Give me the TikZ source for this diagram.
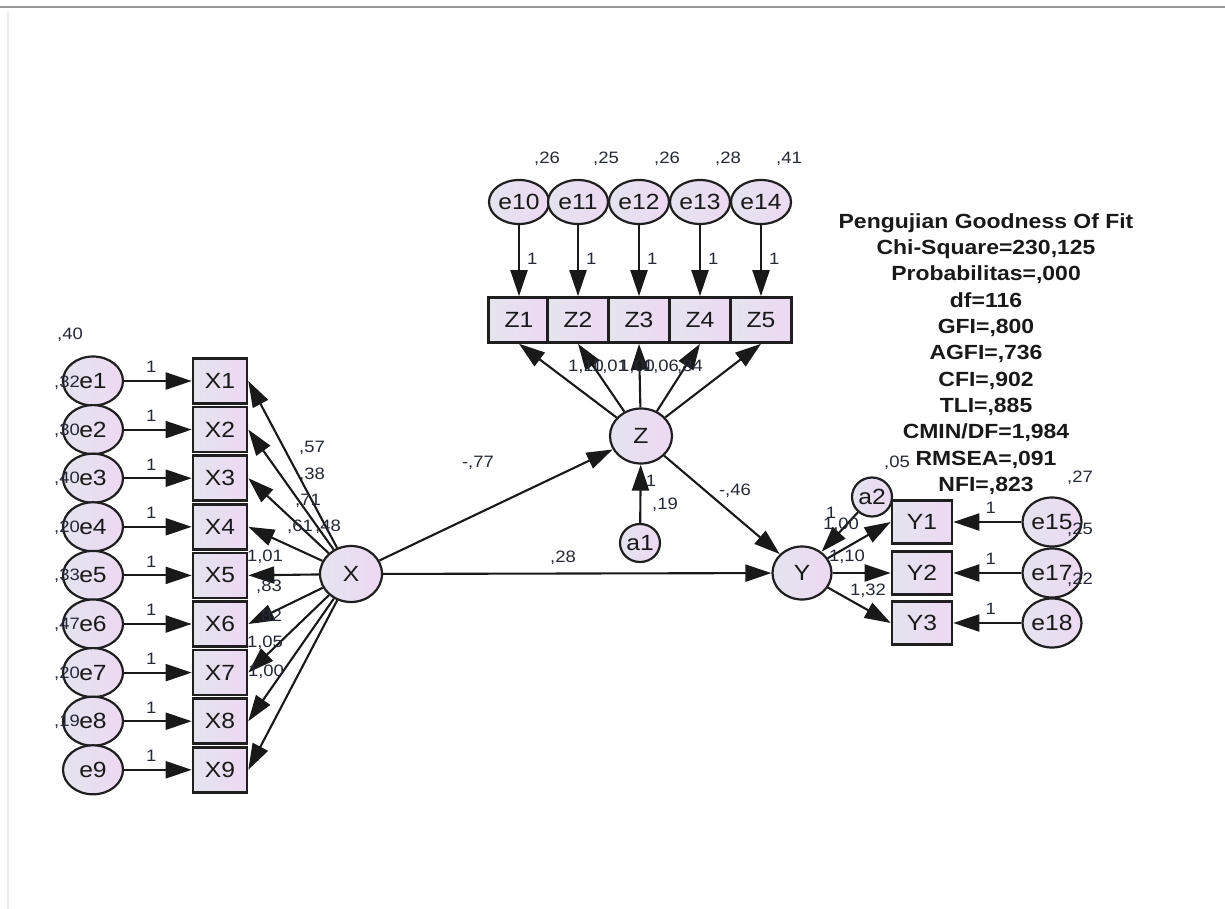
\documentclass[tikz,border=0pt]{standalone}
\usepackage{fontspec}
\setmainfont{Liberation Sans}[FakeStretch=1.12]
\usetikzlibrary{shapes.geometric,arrows.meta}
\definecolor{shA}{HTML}{E4E4EE}
\definecolor{shB}{HTML}{EDD8F3}
\definecolor{lblc}{HTML}{252936}
\begin{document}
\begin{tikzpicture}[x=1pt,y=-1pt,
 lat/.style={ellipse, draw=black!88, line width=2.2pt, left color=shA, right color=shB, inner sep=0pt, font=\fontsize{22}{24}\selectfont, text=black!90},
 obsbox/.style={rectangle, draw=black!88, line width=2.6pt, left color=shA, right color=shB, inner sep=0pt, minimum width=60pt, minimum height=44pt, font=\fontsize{22}{24}\selectfont, text=black!90},
 arr/.style={draw=black!90, line width=2.1pt, -{Triangle[length=26pt,width=17pt]}},
 num/.style={font=\fontsize{16.5}{18}\selectfont, text=lblc, inner sep=0pt},
 fittext/.style={font=\bfseries\fontsize{20.5}{26.3}\selectfont, align=center, text=black!90, inner sep=0pt}
]
\useasboundingbox (0,0) rectangle (1225,909);
\draw[black!40, line width=2pt] (0,7) -- (1225,7);
\draw[black!8, line width=2pt] (8,12) -- (8,909);

% ---------- X block ----------
\foreach \i/\yy in {1/381,2/429.6,3/478.2,4/526.8,5/575.4,6/624,7/672.6,8/721.2,9/769.8}{
  \node[lat, minimum width=60pt, minimum height=49pt] (e\i) at (93,\yy) {e\i};
  \node[obsbox, minimum width=54pt, minimum height=45pt] (X\i) at (220,\yy) {X\i};
}
\node[lat, minimum width=62pt, minimum height=56pt] (X) at (351,574) {X};
\foreach \i in {1,...,9}{
  \draw[arr] (e\i) -- node[num, above=7pt, pos=0.4] (w\i) {1} (X\i);
  \draw[arr] (X) -- (X\i.east);
}
% variances of e1..e8
\node[num] (v0) at (70,335) {,40};
\node[num] (v1) at (67,383) {,32};
\node[num] (v2) at (67,431) {,30};
\node[num] (v3) at (67,479) {,40};
\node[num] (v4) at (67,528) {,20};
\node[num] (v5) at (67,576) {,33};
\node[num] (v6) at (67,625) {,47};
\node[num] (v7) at (67,674) {,20};
\node[num] (v8) at (67,722) {,19};
% loadings of X
\node[num] (l1) at (312,448) {,57};
\node[num] (l2) at (312,475) {,38};
\node[num] (l3) at (308,501) {,71};
\node[num] (l4) at (300,527) {,61};
\node[num] (l4b) at (328,527) {,48};
\node[num] (l5) at (265,557) {1,01};
\node[num] (l6) at (269,587) {,83};
\node[num] (l7) at (269,617) {,82};
\node[num] (l8) at (265,643) {1,05};
\node[num] (l9) at (266,672) {1,00};

% ---------- Z block ----------
\foreach \i/\xx/\v in {1/519/{,26}, 2/578/{,25}, 3/639/{,26}, 4/700/{,28}, 5/761/{,41}}{
  \pgfmathtruncatemacro{\ee}{\i+9}
  \node[lat, minimum width=60pt, minimum height=44pt] (e\ee) at (\xx,202) {e\ee};
  \node[obsbox, minimum width=61pt, minimum height=45pt] (Z\i) at (\xx,320) {Z\i};
  \node[num] (ve\ee) at (\xx+28,159) {\v};
}
\node[lat, minimum width=62pt, minimum height=55pt] (Z) at (641,436) {Z};
\foreach \i in {1,...,5}{
  \pgfmathtruncatemacro{\ee}{\i+9}
  \draw[arr] (e\ee) -- node[num, right=7pt, pos=0.47] (u\i) {1} (Z\i);
  \draw[arr] (Z) -- (Z\i.south);
}
\node[num] (m1) at (586,367) {1,10};
\node[num] (m2) at (610,367) {1,01};
\node[num] (m3) at (637,367) {1,00};
\node[num] (m4) at (661,367) {1,06};
\node[num] (m5) at (690,367) {,84};

\node[lat, minimum width=40pt, minimum height=38pt] (a1) at (640,543) {a1};
\draw[arr] (a1) -- (Z);
\node[num] (a1w) at (651,481) {1};
\node[num] (a1v) at (665,505) {,19};

% ---------- Y block ----------
\node[lat, minimum width=59pt, minimum height=53pt] (Y) at (802,573) {Y};
\foreach \i/\yy/\ee in {1/522/15, 2/573/17, 3/623/18}{
  \node[obsbox, minimum width=60pt, minimum height=43pt] (Y\i) at (922,\yy) {Y\i};
  \node[lat, minimum width=59pt, minimum height=49pt] (e\ee) at (1052,\yy) {e\ee};
  \draw[arr] (e\ee) -- node[num, above=7pt, pos=0.45] (t\i) {1} (Y\i);
}
\node[lat, minimum width=40pt, minimum height=39pt] (a2) at (872,497) {a2};
\draw[arr] (a2) -- (Y);
\draw[arr] (Y) -- (Y1.west);
\draw[arr] (Y) -- (Y2);
\draw[arr] (Y) -- (Y3.west);
\node[num] (a2w) at (831,513) {1};
\node[num] (k1) at (841,525) {1,00};
\node[num] (k2) at (847,557) {1,10};
\node[num] (k3) at (868,591) {1,32};
\node[num] (a2v) at (897,463) {,05};
\node[num] (ve15) at (1080,478) {,27};
\node[num] (ve17) at (1080,530) {,25};
\node[num] (ve18) at (1080,580) {,22};

% ---------- structural paths ----------
\draw[arr] (X) -- (Z);
\draw[arr] (X) -- (Y);
\draw[arr] (Z) -- (Y);
\node[num] (p1) at (478,463) {-,77};
\node[num] (p2) at (563,558) {,28};
\node[num] (p3) at (735,491) {-,46};

% ---------- fit ----------
\node[fittext] (fit) at (986,354) {Pengujian Goodness Of Fit\\Chi-Square=230,125\\Probabilitas=,000\\df=116\\GFI=,800\\AGFI=,736\\CFI=,902\\TLI=,885\\CMIN/DF=1,984\\RMSEA=,091\\NFI=,823};
\end{tikzpicture}
\end{document}
